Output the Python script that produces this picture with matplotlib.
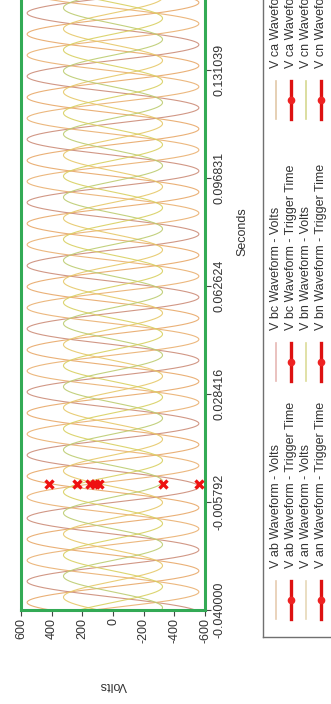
import numpy as np
import matplotlib
matplotlib.use("Agg")
import matplotlib.pyplot as plt

plt.rcParams["font.family"] = ["Liberation Sans", "DejaVu Sans"]

# ---- values ------------------------------------------------------------
series = ["V ab", "V bc", "V ca", "V an", "V bn", "V cn"]
peak_volts = [560, 560, 560, 323, 323, 323]
phase_at_trigger_deg = [47, -73, 167, 17, -103, 137]
line_freq_hz = 50.0
trigger_time = 0.0
trigger_volts = [417, 150, -560, 235, 91, -326, 118]

time_limits = [-0.040000, 0.199456]
time_ticks = [-0.040000, -0.005792, 0.028416, 0.062624, 0.096831, 0.131039]
time_labels = ["-0.040000", "-0.005792", "0.028416", "0.062624", "0.096831",
               "0.131039"]
volt_ticks = [600, 400, 200, 0, -200, -400, -600]

line_colors = ["#e8a868", "#cc8c78", "#eab070", "#e6c868", "#bccc70", "#d8d060"]
legend_colors = ["#e6ccb0", "#e6b8b4", "#e2c8a8", "#e6d8b8", "#dcdc98", "#d6d890"]

# ---- figure: landscape chart drawn rotated into a portrait page ----------
W, H = 331, 704
fig = plt.figure(figsize=(W / 100, H / 100), dpi=100)
fig.patch.set_facecolor("white")

ax_l, ax_r, ax_b, ax_t = 21, 205, 610, -146
ax = fig.add_axes([ax_l / W, 1 - ax_b / H, (ax_r - ax_l) / W, (ax_b - ax_t) / H])

t = np.arange(time_limits[0], time_limits[1], 1 / 7680)
for name, amp, ph, col in zip(series, peak_volts, phase_at_trigger_deg, line_colors):
    v = amp * np.sin(2 * np.pi * line_freq_hz * (t - trigger_time) + np.radians(ph))
    ax.plot(v, t, color=col, lw=0.8, alpha=0.9)

ax.plot(trigger_volts, [trigger_time] * len(trigger_volts), ls="none",
        marker="x", ms=6, mew=2.4, color="#ee1111", zorder=5)

ax.set_xlim(600, -600)
ax.set_ylim(*time_limits)
ax.set_xticks(volt_ticks)
ax.set_xticklabels([str(v) for v in volt_ticks], rotation=90)
ax.set_yticks(time_ticks)
ax.set_yticklabels(time_labels, rotation=90, va="center")
ax.yaxis.tick_right()
ax.yaxis.set_label_position("right")
ax.tick_params(length=4, width=0.8, color="#444444", labelsize=9,
               labelcolor="#333333", pad=2)
ax.set_xlabel("Volts", rotation=180, fontsize=9, color="#333333", labelpad=26)
ax.set_ylabel("Seconds", rotation=90, fontsize=9, color="#333333", labelpad=8)
for side in ("left", "right", "bottom", "top"):
    ax.spines[side].set_color("#33aa55")
    ax.spines[side].set_linewidth(2.2)

# ---- legend (drawn by hand so it can be rotated) -------------------------
lg = fig.add_axes([0, 0, 1, 1], zorder=10)
lg.set_xlim(0, W)
lg.set_ylim(H, 0)
lg.axis("off")
lg.plot([263, 263], [-5, 637], color="#707070", lw=1)
lg.plot([263, W + 5], [637, 637], color="#707070", lw=1)

col_x = [276, 291, 306, 321]
group_y = [600, 362, 100]
for yc, pair in zip(group_y, [(0, 3), (1, 4), (2, 5)]):
    for k, si in enumerate(pair):
        xv, xt = col_x[2 * k], col_x[2 * k + 1]
        lg.plot([xv, xv], [yc - 19, yc + 19], color=legend_colors[si], lw=1.2)
        lg.plot([xt, xt], [yc - 19, yc + 19], color="#dd1111", lw=2.4)
        lg.plot([xt], [yc], marker="o", ms=4.5, color="#ee2222")
        lg.text(xv, yc - 32, f"{series[si]} Waveform - Volts", rotation=90,
                ha="center", va="bottom", fontsize=9, color="#333333")
        lg.text(xt, yc - 32, f"{series[si]} Waveform - Trigger Time", rotation=90,
                ha="center", va="bottom", fontsize=9, color="#333333")

fig.savefig("out.png", dpi=100, facecolor="white")
